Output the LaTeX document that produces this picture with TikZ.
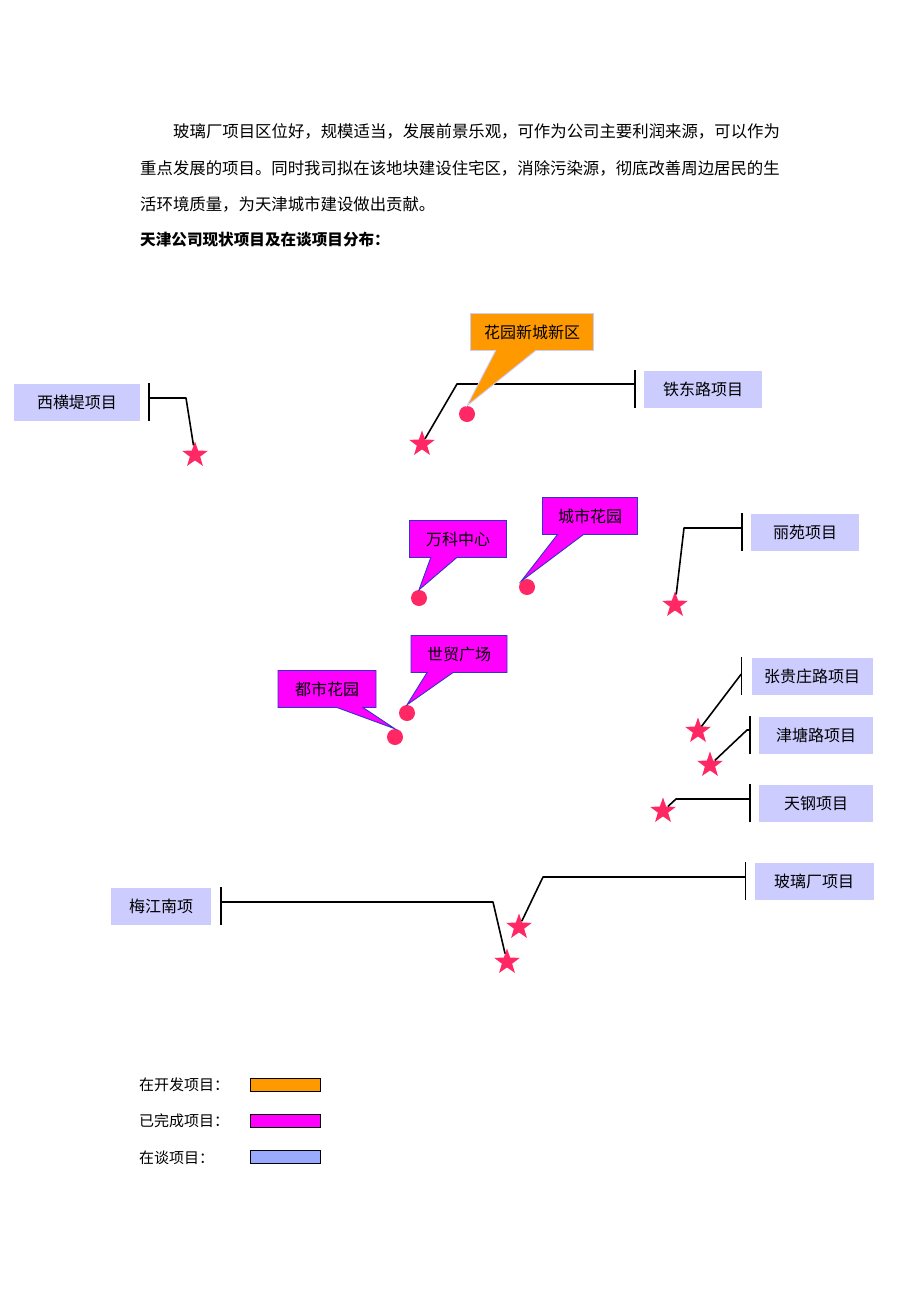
\documentclass[tikz,border=0pt]{standalone}
\usepackage{fontspec}
\setmainfont{Noto Sans CJK SC}
\usepackage{tikz}
\usetikzlibrary{shapes.geometric,shapes.callouts}
\usepackage{xcolor}
\definecolor{tjorange}{RGB}{255,153,0}
\definecolor{tjmagenta}{RGB}{255,0,255}
\definecolor{tjlav}{RGB}{204,204,255}
\definecolor{tjedge}{RGB}{51,51,204}
\definecolor{tjstar}{RGB}{255,40,100}
\definecolor{tjkey}{RGB}{153,170,255}
\tikzstyle{talkbox} = [rectangle, fill=tjlav, minimum height=37pt, inner sep=0pt, font=\fontsize{16}{16}\selectfont]
\tikzstyle{donebox} = [rectangle callout, draw=tjedge, fill=tjmagenta, line width=0.9pt, minimum height=37pt, callout pointer width=26pt, inner sep=0pt, font=\fontsize{16}{16}\selectfont]
\tikzstyle{devbox} = [rectangle callout, draw=tjlav, fill=tjorange, line width=0.9pt, minimum height=37pt, callout pointer width=40pt, inner sep=0pt, font=\fontsize{16}{16}\selectfont]
\tikzstyle{site} = [star, star points=5, star point ratio=2.5, fill=tjstar, minimum size=27pt, inner sep=0pt]
\tikzstyle{spot} = [circle, fill=tjstar, minimum size=16pt, inner sep=0pt]
\tikzstyle{leader} = [line width=1.6pt, line join=round]
\tikzstyle{legbox} = [rectangle, draw=black, line width=0.9pt, minimum width=70pt, minimum height=13pt, inner sep=0pt]
\tikzstyle{para} = [anchor=west, inner sep=0pt, font=\fontsize{16.4}{16.4}\selectfont]
\tikzstyle{keytext} = [anchor=west, inner sep=0pt, font=\fontsize{15}{15}\selectfont]

\begin{document}
\begin{tikzpicture}[x=1pt, y=-1pt]
\useasboundingbox (0,0) rectangle (920,1302);
% Text above the map
\node (l1) [para] at (173,131) {玻璃厂项目区位好，规模适当，发展前景乐观，可作为公司主要利润来源，可以作为};
\node (l2) [para] at (140,168) {重点发展的项目。同时我司拟在该地块建设住宅区，消除污染源，彻底改善周边居民的生};
\node (l3) [para] at (140,204) {活环境质量，为天津城市建设做出贡献。};
\node (head) [para, font=\fontsize{15.6}{15.6}\selectfont\bfseries] at (140,240) {天津公司现状项目及在谈项目分布：};

% Projects under talks
\node (xht) [talkbox, minimum width=126pt] at (77,402) {西横堤项目};
\node (tdl) [talkbox, minimum width=118pt] at (703,389) {铁东路项目};
\node (ly) [talkbox, minimum width=108pt] at (805,532) {丽苑项目};
\node (zgz) [talkbox, minimum width=121pt] at (812,676) {张贵庄路项目};
\node (jtl) [talkbox, minimum width=114pt] at (816,735) {津塘路项目};
\node (tg) [talkbox, minimum width=114pt] at (816,803) {天钢项目};
\node (blc) [talkbox, minimum width=119pt] at (814,881) {玻璃厂项目};
\node (mjn) [talkbox, minimum width=100pt] at (161,906) {梅江南项};

\node (xhtsite) [site] at (195,455) {};
\node (tdlsite) [site] at (422,444) {};
\node (lysite) [site] at (675,605) {};
\node (zgzsite) [site] at (698,731) {};
\node (jtlsite) [site] at (710,765) {};
\node (tgsite) [site] at (663,811) {};
\node (blcsite) [site] at (519,927) {};
\node (mjnsite) [site] at (507,962) {};

\draw[leader] ([xshift=9pt]xht.north east) -- ([xshift=9pt]xht.south east);
\draw[leader] ([xshift=9pt,yshift=4pt]xht.east) -- (186,398) -- (xhtsite);
\draw[leader] ([xshift=-9pt]tdl.north west) -- ([xshift=-9pt]tdl.south west);
\draw[leader] ([xshift=-9pt,yshift=5pt]tdl.west) -- (457,384) -- (tdlsite);
\draw[leader] ([xshift=-9pt]ly.north west) -- ([xshift=-9pt]ly.south west);
\draw[leader] ([xshift=-9pt,yshift=4pt]ly.west) -- (684,528) -- (lysite);
\draw[leader] ([xshift=-10pt]zgz.north west) -- ([xshift=-10pt]zgz.south west);
\draw[leader] ([xshift=-10pt,yshift=2pt]zgz.west) -- (zgzsite);
\draw[leader] ([xshift=-9pt]jtl.north west) -- ([xshift=-9pt]jtl.south west);
\draw[leader] ([xshift=-9pt,yshift=5pt]jtl.west) -- (747,730) -- (jtlsite);
\draw[leader] ([xshift=-9pt]tg.north west) -- ([xshift=-9pt]tg.south west);
\draw[leader] ([xshift=-9pt,yshift=4pt]tg.west) -- (676,799) -- (tgsite);
\draw[leader] ([xshift=-9pt]blc.north west) -- ([xshift=-9pt]blc.south west);
\draw[leader] ([xshift=-9pt,yshift=4pt]blc.west) -- (543,877) -- (blcsite);
\draw[leader] ([xshift=10pt]mjn.north east) -- ([xshift=10pt]mjn.south east);
\draw[leader] ([xshift=10pt,yshift=4pt]mjn.east) -- (493,902) -- (mjnsite);

% Projects in development and finished
\node (hyspot) [spot] at (467,414) {};
\node (wkspot) [spot] at (419,598) {};
\node (cshspot) [spot] at (527,587) {};
\node (smspot) [spot] at (407,713) {};
\node (dshspot) [spot] at (395,737) {};

\node (hy) [devbox, minimum width=123pt, callout absolute pointer={(hyspot.north)}] at (532,332) {花园新城新区};
\node (wk) [donebox, minimum width=97pt, callout absolute pointer={(wkspot.north)}] at (458,539) {万科中心};
\node (csh) [donebox, minimum width=95pt, callout absolute pointer={(cshspot.north west)}] at (590,516) {城市花园};
\node (sm) [donebox, minimum width=96pt, callout absolute pointer={(smspot.north)}] at (459,654) {世贸广场};
\node (dsh) [donebox, minimum width=98pt, callout absolute pointer={(dshspot.north)}] at (327,689) {都市花园};

% Key
\node (k1) [keytext] at (139,1085) {在开发项目：};
\node (k2) [keytext] at (139,1121) {已完成项目：};
\node (k3) [keytext] at (139,1158) {在谈项目：};
\node (k1box) [legbox, fill=tjorange] at (285,1084.5) {};
\node (k2box) [legbox, fill=tjmagenta] at (285,1120.5) {};
\node (k3box) [legbox, fill=tjkey] at (285,1156.5) {};
\end{tikzpicture}
\end{document}
